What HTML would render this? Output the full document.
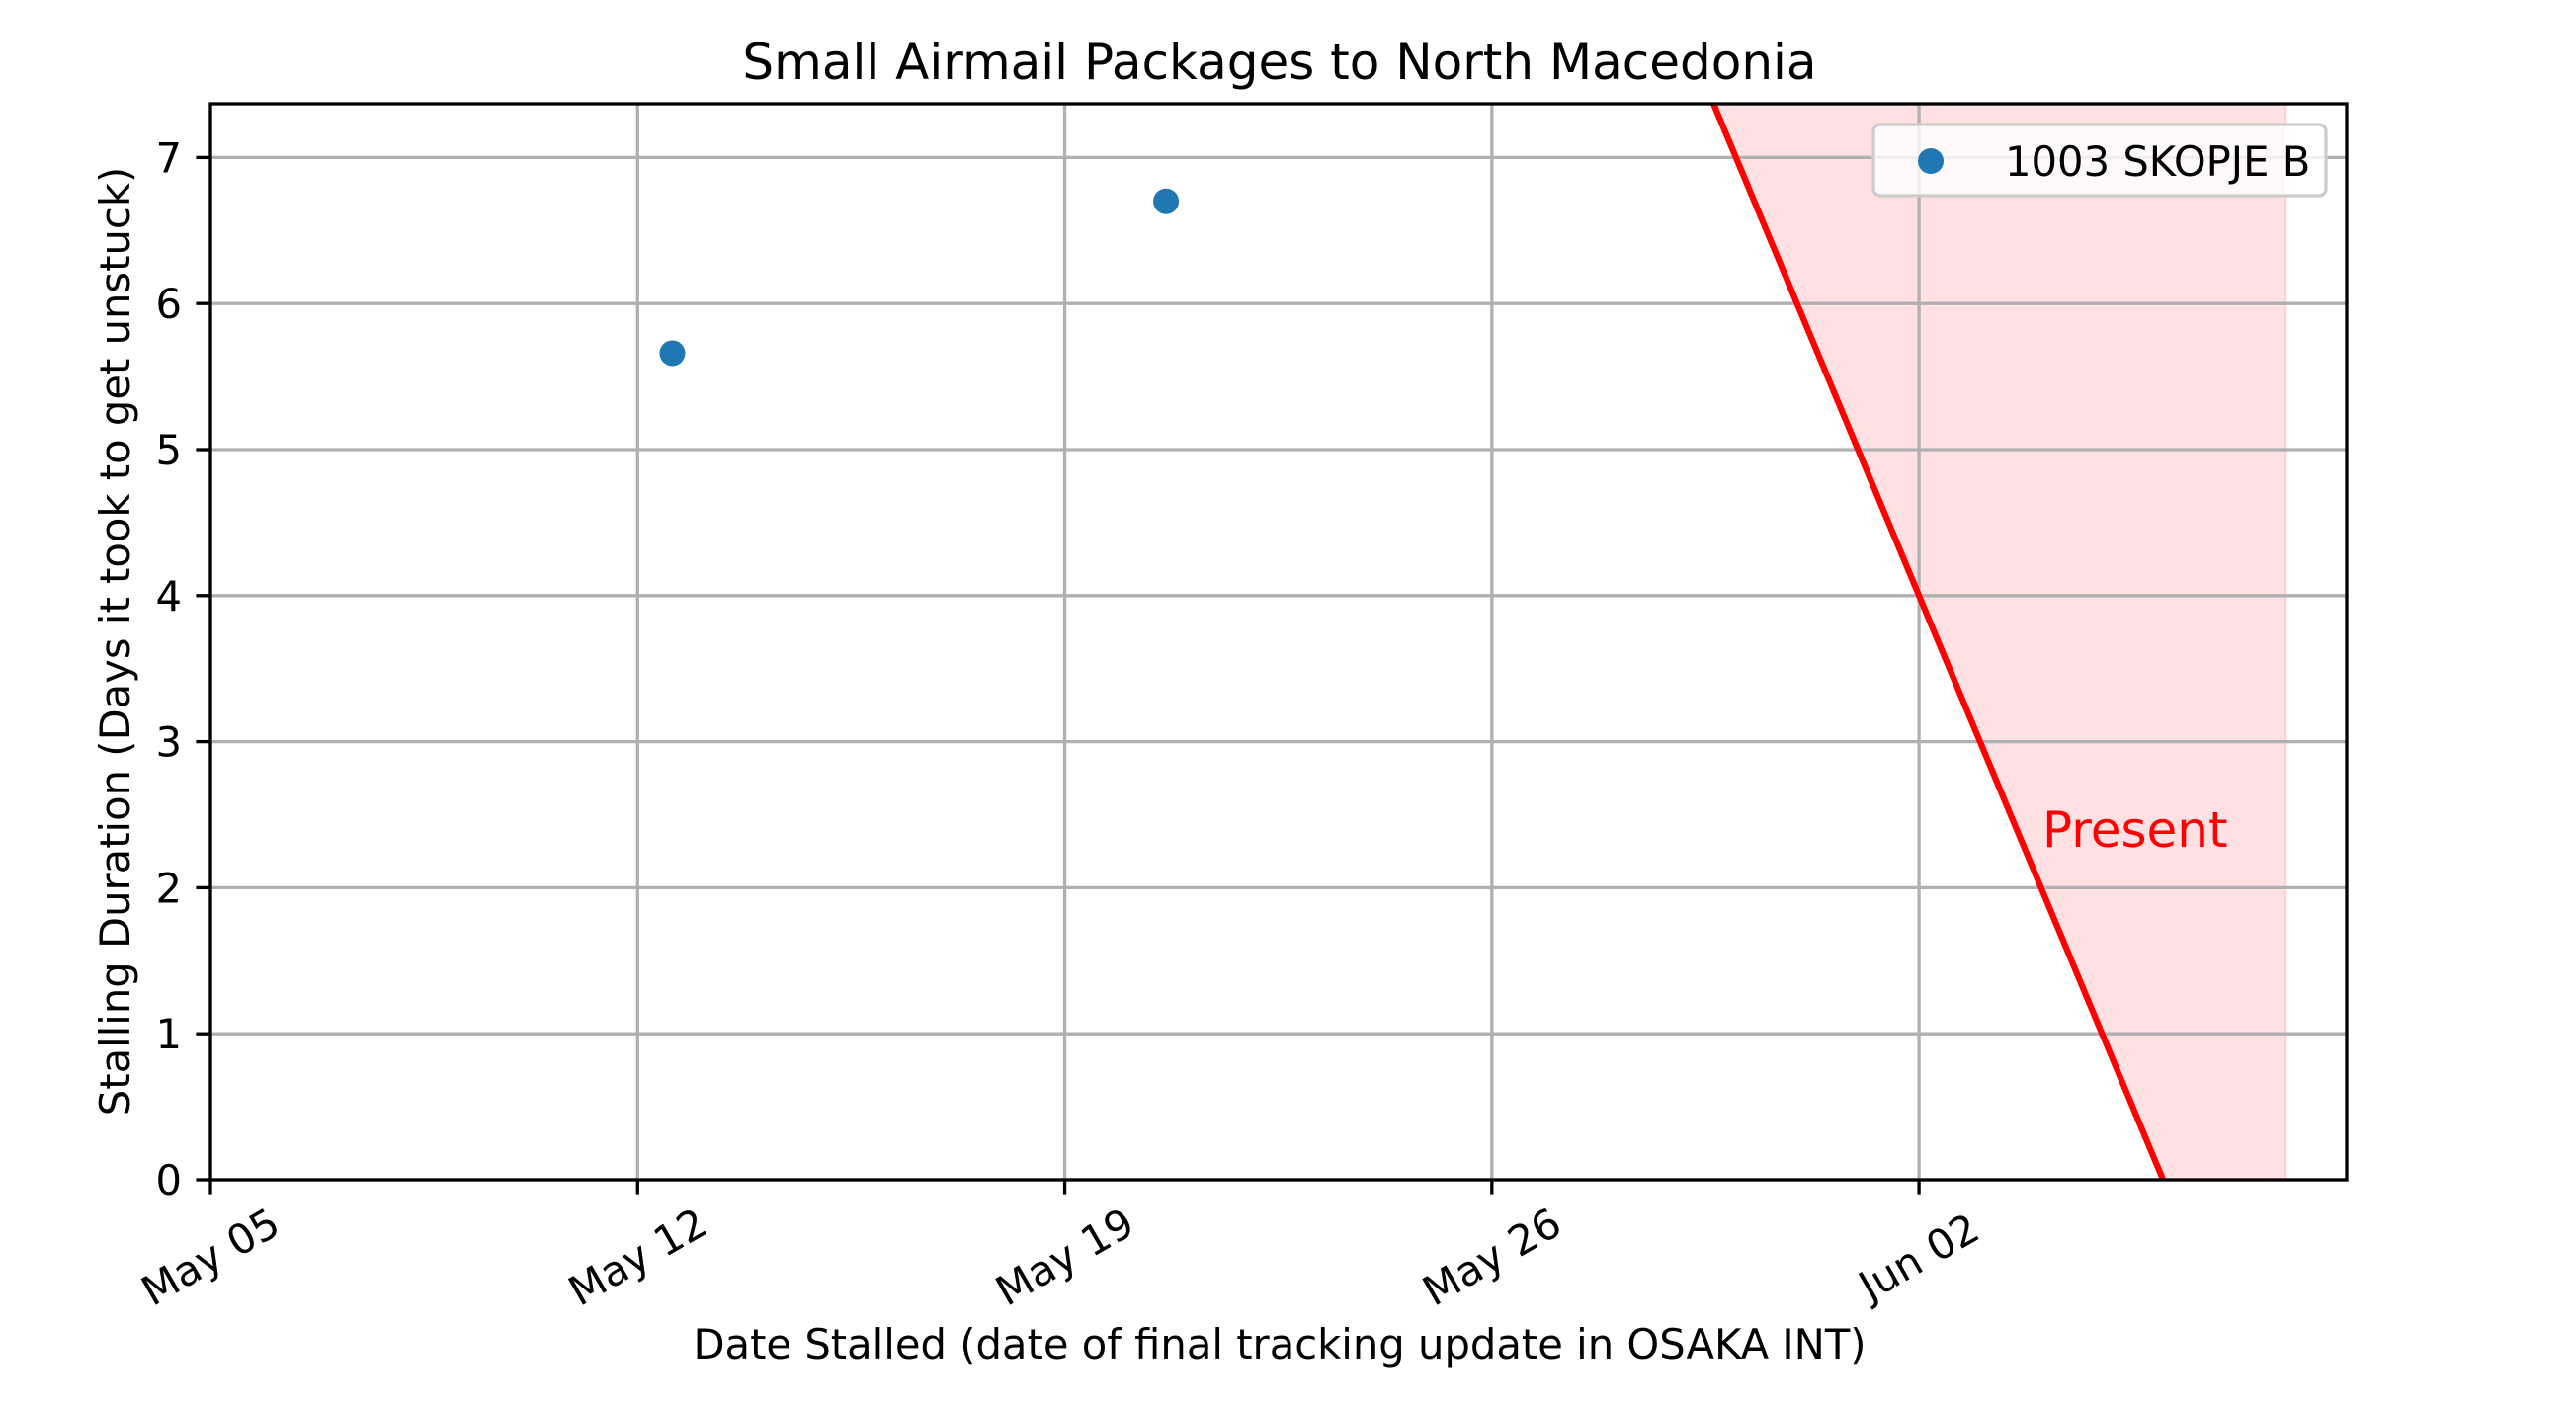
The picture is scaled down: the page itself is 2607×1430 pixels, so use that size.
<!DOCTYPE html>
<html><head><meta charset="utf-8"><style>
html,body{margin:0;padding:0;background:#fff;}
svg{display:block;font-family:"DejaVu Sans","Liberation Sans",sans-serif;}
</style></head><body>
<svg id="chart" width="2607" height="1430" viewBox="0 0 2607 1430" xmlns="http://www.w3.org/2000/svg">
<rect width="2607" height="1430" fill="#fff"/>
<text x="1295" y="80" font-size="50" text-anchor="middle">Small Airmail Packages to North Macedonia</text>
<g id="plot"></g>
<text x="1295" y="1375" font-size="41.7" text-anchor="middle">Date Stalled (date of final tracking update in OSAKA INT)</text>
<text x="0" y="0" font-size="41.7" text-anchor="middle" transform="translate(131,649) rotate(-90)">Stalling Duration (Days it took to get unstuck)</text>
</svg>
<script>
// days since May 05
const tickDays = [0, 7, 14, 21, 28];
const tickLabels = ["May 05", "May 12", "May 19", "May 26", "Jun 02"];
const yTicks = [0, 1, 2, 3, 4, 5, 6, 7];
const pointDays = [7.57, 15.66];
const pointValues = [5.66, 6.7];
const seriesName = "1003 SKOPJE B";
const presentDay = 32;   // line reaches 0 here
const shadeEndDay = 34;
const xMin = 0, xMax = 35.01, yMin = 0, yMax = 7.368;

const L = 213, R = 2375, T = 105, B = 1194;
const sx = d => L + (d - xMin) / (xMax - xMin) * (R - L);
const sy = v => B - (v - yMin) / (yMax - yMin) * (B - T);
const NS = "http://www.w3.org/2000/svg";
const g = document.getElementById("plot");
function mk(tag, attrs, parent) {
  const e = document.createElementNS(NS, tag);
  for (const k in attrs) e.setAttribute(k, attrs[k]);
  (parent || g).appendChild(e);
  return e;
}
const topDay = presentDay - yMax;
const shade = mk("polygon", {points: `${sx(topDay)},${sy(yMax)} ${sx(presentDay)},${sy(0)} ${sx(shadeEndDay)},${sy(0)} ${sx(shadeEndDay)},${sy(yMax)}`, fill: "#ffe1e3"});


const edge = mk("line", {x1: sx(shadeEndDay), x2: sx(shadeEndDay), y1: T, y2: B, stroke: "#ffcfd3", "stroke-width": 3});


tickDays.forEach((d, i) => {
  const l = mk("line", {x1: sx(d), x2: sx(d), y1: T, y2: B, stroke: "#b0b0b0", "stroke-width": 3.3});
  
  
  const t = mk("line", {x1: sx(d), x2: sx(d), y1: B, y2: B + 14.6, stroke: "#000", "stroke-width": 3.3});
  
  
  const cx = sx(d), cy = 1272;
  const lab = mk("text", {x: cx, y: cy, "font-size": 41.7, "text-anchor": "middle", "dominant-baseline": "central", transform: `rotate(-30 ${cx} ${cy})`});
  lab.textContent = tickLabels[i];
  
  
});
yTicks.forEach(v => {
  const l = mk("line", {x1: L, x2: R, y1: sy(v), y2: sy(v), stroke: "#b0b0b0", "stroke-width": 3.3});
  
  
  const t = mk("line", {x1: L - 14.6, x2: L, y1: sy(v), y2: sy(v), stroke: "#000", "stroke-width": 3.3});
  
  
  const lab = mk("text", {x: L - 29, y: sy(v) + 15, "font-size": 41.7, "text-anchor": "end"});
  lab.textContent = v;
  
  
});
const pl = mk("line", {x1: sx(topDay), y1: sy(yMax), x2: sx(presentDay), y2: sy(0), stroke: "#ff0000", "stroke-width": 6.25});


const pt = mk("text", {x: 2067, y: 857, "font-size": 50, fill: "#ff0000", "text-anchor": "start"});
pt.textContent = "Present";


pointDays.forEach((d, i) => {
  const c = mk("circle", {cx: sx(d), cy: sy(pointValues[i]), r: 13, fill: "#1f77b4"});
  
  
});
const fr = mk("rect", {x: L, y: T, width: R - L, height: B - T, fill: "none", stroke: "#000", "stroke-width": 3.3});


const lg = mk("g", {});


mk("rect", {x: 1896, y: 126, width: 458, height: 72, rx: 7, fill: "#fff", "fill-opacity": 0.8, stroke: "#cccccc", "stroke-width": 3.3}, lg);
const lm = mk("circle", {cx: 1954, cy: 163, r: 13, fill: "#1f77b4"}, lg);


const lt = mk("text", {x: 2029, y: 178, "font-size": 41.7}, lg);
lt.textContent = seriesName;


</script>
</body></html>
